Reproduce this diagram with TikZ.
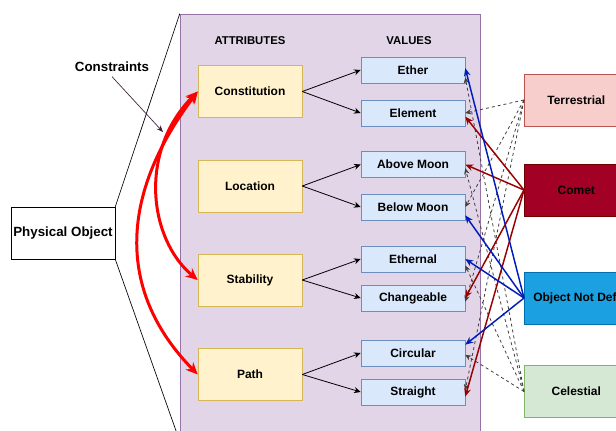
\documentclass[tikz,border=0pt]{standalone}
\usepackage{fontspec}
\setmainfont{Liberation Sans}
\usepackage{tikz}
\usetikzlibrary{
  arrows.meta,
}

\definecolor{panelfill}{HTML}{E1D5E7}
\definecolor{paneldraw}{HTML}{9673A6}
\definecolor{attrfill}{HTML}{FFF2CC}
\definecolor{attrdraw}{HTML}{D6B656}
\definecolor{valfill}{HTML}{DAE8FC}
\definecolor{valdraw}{HTML}{6C8EBF}
\definecolor{terrfill}{HTML}{F8CECC}
\definecolor{terrdraw}{HTML}{B85450}
\definecolor{cometfill}{HTML}{A20025}
\definecolor{cometdraw}{HTML}{6F0000}
\definecolor{undeffill}{HTML}{1BA1E2}
\definecolor{undefdraw}{HTML}{006EAF}
\definecolor{celfill}{HTML}{D5E8D4}
\definecolor{celdraw}{HTML}{82B366}
\definecolor{bluelink}{HTML}{001DBC}
\definecolor{redlink}{HTML}{990000}
\definecolor{conslink}{HTML}{3D1F36}

\begin{document}
\begin{tikzpicture}[
  x=0.75pt, y=-0.75pt,
  font=\bfseries\fontsize{9}{11}\selectfont,
  attr/.style={draw=attrdraw, fill=attrfill, minimum width=78pt, minimum height=39pt},
  val/.style={draw=valdraw, fill=valfill, minimum width=78pt, minimum height=19.5pt},
  kind/.style={draw=#1draw, fill=#1fill, minimum width=78pt, minimum height=39pt,
    inner xsep=6.75pt, anchor=west},
  head/.style={font=\bfseries\fontsize{8.5}{10}\selectfont},
  link/.style={-{Stealth[length=5pt,width=4.5pt]}, line width=0.6pt},
  bluearrow/.style={-{Stealth[length=6pt,width=5pt]}, line width=1.1pt, bluelink},
  redarrow/.style={-{Stealth[length=6pt,width=5pt]}, line width=1.1pt, redlink},
  dasharrow/.style={-{Stealth[length=4.5pt,width=4pt]}, line width=0.6pt,
    dash pattern=on 2.25pt off 2.25pt, black!75},
  constraint/.style={{Stealth[length=9pt,width=8pt]}-{Stealth[length=9pt,width=8pt]},
    line width=2.25pt, red},
]
  \useasboundingbox (0,0) rectangle (616,430);

  % Panel and physical object
  \node[draw=paneldraw, fill=panelfill, minimum width=225pt, minimum height=320.25pt,
    inner sep=0pt] (panel) at (330,227.5) {};
  \node[draw, fill=white, minimum width=78pt, minimum height=39pt, inner xsep=1pt,
    font=\bfseries\fontsize{10}{12}\selectfont] (phys) at (63,233) {Physical Object};
  \draw[line width=0.5pt] (phys.north east) -- (panel.north west);
  \draw[line width=0.5pt] (phys.south east) -- (panel.south west);

  % Headers
  \node[head] (attrhead) at (250,41) {ATTRIBUTES};
  \node[head] (valhead)  at (409,41) {VALUES};

  % Attributes
  \node[attr] (const) at (250,91.5)  {Constitution};
  \node[attr] (loc)   at (250,186)   {Location};
  \node[attr] (stab)  at (250,280)   {Stability};
  \node[attr] (path)  at (250,374.5) {Path};

  % Values
  \node[val] (ether)    at (413,70)    {Ether};
  \node[val] (element)  at (413,113)   {Element};
  \node[val] (above)    at (413,164.5) {Above Moon};
  \node[val] (below)    at (413,207)   {Below Moon};
  \node[val] (ethernal) at (413,259)   {Ethernal};
  \node[val] (change)   at (413,298)   {Changeable};
  \node[val] (circ)     at (413,353)   {Circular};
  \node[val] (straight) at (413,392)   {Straight};

  % Kinds of object
  \node[kind=terr]  (terr)   at (524,100)   {Terrestrial};
  \node[kind=comet] (comet)  at (524,190)   {Comet};
  \node[kind=undef] (undef)  at (524,298)   {Object Not Defined};
  \node[kind=cel]   (celest) at (524,391.5) {Celestial};

  % Attribute to value links
  \draw[link] (const.east) -- (ether.west);
  \draw[link] (const.east) -- (element.west);
  \draw[link] (loc.east)   -- (above.west);
  \draw[link] (loc.east)   -- (below.west);
  \draw[link] (stab.east)  -- (ethernal.west);
  \draw[link] (stab.east)  -- (change.west);
  \draw[link] (path.east)  -- (circ.west);
  \draw[link] (path.east)  -- (straight.west);

  % Constraints
  \node[font=\bfseries\fontsize{10}{12}\selectfont] (cons) at (112,67) {Constraints};
  \coordinate (constip) at (163,132);
  \draw[-{Stealth[length=5pt,width=4pt]}, line width=0.5pt, conslink] (cons.south) -- (constip);
  \draw[constraint] (const.west) .. controls (138,152) and (149,239) .. (stab.west);
  \draw[constraint] (const.west) .. controls (116,200) and (120,295) .. (path.west);

  % Terrestrial
  \draw[dasharrow] (terr.west) -- (element.east);
  \draw[dasharrow] (terr.west) -- (below.east);
  \draw[dasharrow] (terr.west) -- (change.-4);
  \draw[dasharrow] (terr.west) -- (straight.2);

  % Celestial
  \draw[dasharrow] (celest.west) -- (ether.-8);
  \draw[dasharrow] (celest.west) -- (above.-4);
  \draw[dasharrow] (celest.west) -- (ethernal.-7);
  \draw[dasharrow] (celest.west) -- (circ.-2);

  % Comet
  \draw[redarrow] (comet.west) -- (element.-4);
  \draw[redarrow] (comet.west) -- (above.east);
  \draw[redarrow] (comet.west) -- (change.east);
  \draw[redarrow] (comet.west) -- (straight.-5);

  % Object not defined
  \draw[bluearrow] (undef.west) -- (ether.2);
  \draw[bluearrow] (undef.west) -- (below.-9);
  \draw[bluearrow] (undef.west) -- (ethernal.east);
  \draw[bluearrow] (undef.west) -- (circ.9);
\end{tikzpicture}
\end{document}
